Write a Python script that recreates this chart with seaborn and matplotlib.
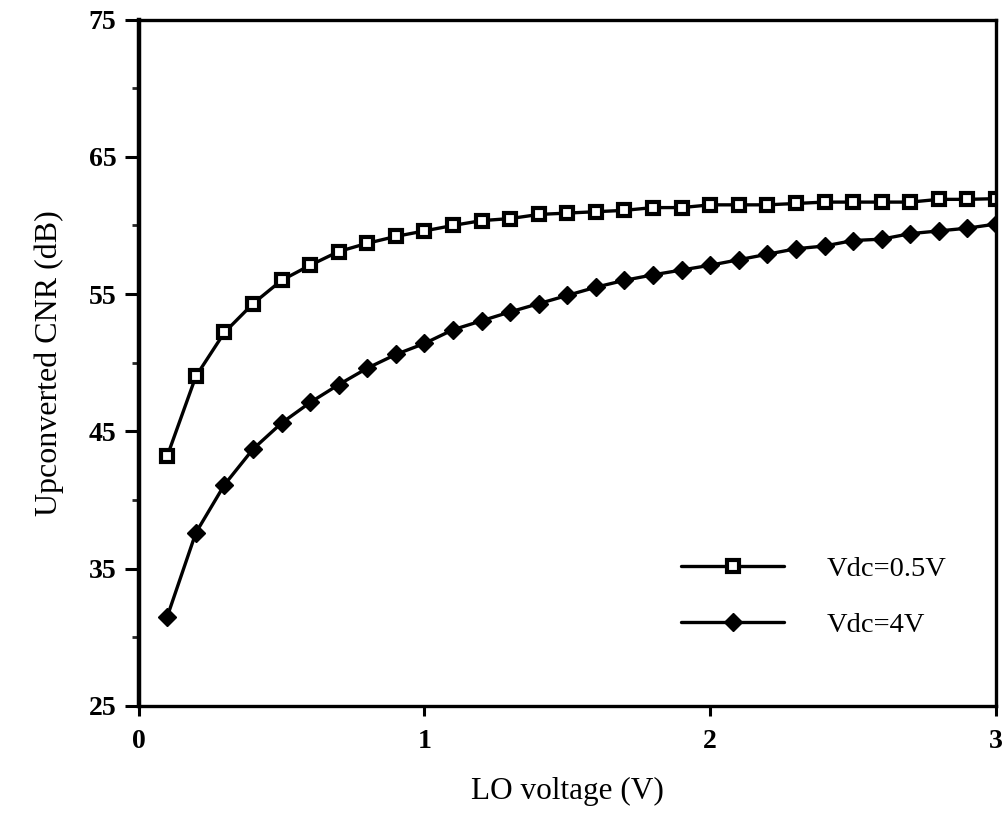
import matplotlib
matplotlib.use("Agg")
import matplotlib.pyplot as plt
from matplotlib.ticker import MultipleLocator
from matplotlib.lines import Line2D
import seaborn as sns
import pandas as pd

sns.set_style("ticks")
plt.rcParams["font.family"] = ["Liberation Serif", "DejaVu Serif"]
plt.rcParams["text.color"] = "black"
plt.rcParams["axes.labelcolor"] = "black"

# LO voltage (V)
lo_voltage = [0.1, 0.2, 0.3, 0.4, 0.5, 0.6, 0.7, 0.8, 0.9, 1.0,
              1.1, 1.2, 1.3, 1.4, 1.5, 1.6, 1.7, 1.8, 1.9, 2.0,
              2.1, 2.2, 2.3, 2.4, 2.5, 2.6, 2.7, 2.8, 2.9, 3.0]

# Upconverted CNR (dB), Vdc=0.5V
cnr_vdc_05 = [43.2, 49.0, 52.2, 54.3, 56.0, 57.1, 58.1, 58.7, 59.2, 59.6,
              60.0, 60.35, 60.5, 60.8, 60.9, 61.0, 61.1, 61.3, 61.3, 61.5,
              61.5, 61.5, 61.6, 61.7, 61.7, 61.7, 61.7, 61.9, 61.9, 61.95]

# Upconverted CNR (dB), Vdc=4V
cnr_vdc_4 = [31.5, 37.6, 41.1, 43.7, 45.6, 47.1, 48.4, 49.6, 50.6, 51.4,
             52.4, 53.05, 53.7, 54.3, 54.9, 55.5, 56.0, 56.4, 56.75, 57.1,
             57.5, 57.9, 58.3, 58.5, 58.9, 59.0, 59.4, 59.6, 59.8, 60.1]

labels = ["Vdc=0.5V", "Vdc=4V"]

df = pd.DataFrame({
    "x": lo_voltage * 2,
    "y": cnr_vdc_05 + cnr_vdc_4,
    "series": [labels[0]] * len(lo_voltage) + [labels[1]] * len(lo_voltage),
})

fig = plt.figure(figsize=(10.05, 8.15), dpi=100)
ax = fig.add_axes([0.138, 0.134, 0.853, 0.842])

sns.lineplot(
    data=df, x="x", y="y", style="series", hue="series",
    palette=["black", "black"], markers=["s", "D"], dashes=False,
    linewidth=2.4, ax=ax, legend=False,
)
# open squares, filled diamonds
sq_style = dict(marker="s", markersize=8, markerfacecolor="white",
                markeredgecolor="black", markeredgewidth=3)
dm_style = dict(marker="D", markersize=9.5, markerfacecolor="black",
                markeredgecolor="black", markeredgewidth=1)
lines = ax.get_lines()
lines[0].set(**sq_style)
lines[1].set(**dm_style)

ax.set_xlim(0, 3)
ax.set_ylim(25, 75)
ax.set_xticks([0, 1, 2, 3])
ax.set_yticks([25, 35, 45, 55, 65, 75])
ax.yaxis.set_minor_locator(MultipleLocator(5))

for side in ["left", "right", "top", "bottom"]:
    ax.spines[side].set_visible(True)
    ax.spines[side].set_color("black")
    ax.spines[side].set_linewidth(2.4)
ax.spines["left"].set_linewidth(3.2)

ax.tick_params(axis="y", which="major", direction="out", length=10, width=2.2,
               pad=6, labelsize=20, colors="black")
ax.tick_params(axis="y", which="minor", direction="out", length=5, width=2)
ax.tick_params(axis="x", which="major", direction="out", length=7, width=2.2,
               pad=10, labelsize=20, colors="black")
for lab in ax.get_xticklabels() + ax.get_yticklabels():
    lab.set_fontweight("bold")

ax.set_xlabel("LO voltage (V)", fontsize=22.5, labelpad=16)
ax.set_ylabel("Upconverted CNR (dB)", fontsize=23, labelpad=18)
ax.grid(False)

handles = [
    Line2D([], [], color="black", linewidth=2.4, **sq_style),
    Line2D([], [], color="black", linewidth=2.4, **dm_style),
]
ax.legend(handles, labels, loc="upper left", bbox_to_anchor=(0.678, 0.318),
          bbox_transform=fig.transFigure, frameon=False, fontsize=20.5,
          handlelength=3.6, handletextpad=1.5, labelspacing=1.05,
          numpoints=1, borderpad=0, borderaxespad=0)

fig.savefig("out.png", dpi=100)
